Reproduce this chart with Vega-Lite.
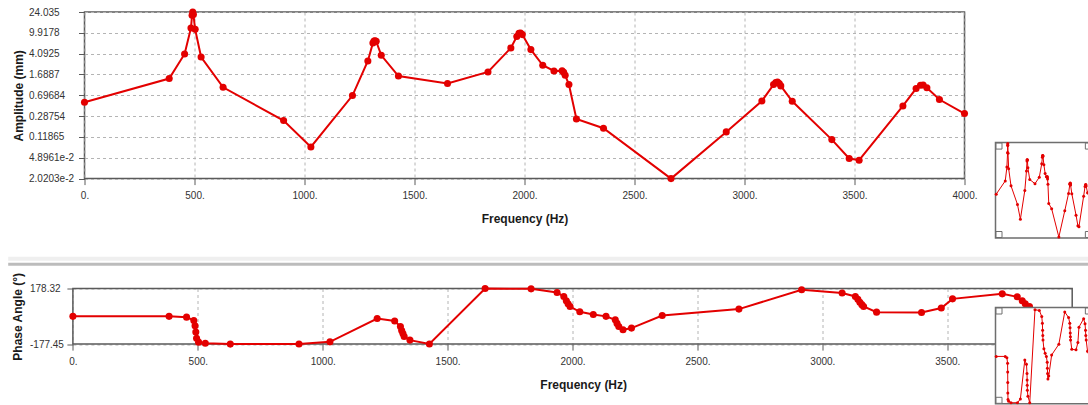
{
  "$schema": "https://vega.github.io/schema/vega-lite/v6.json",
  "background": "white",
  "padding": {"left": 5.5, "top": 6, "right": 0, "bottom": 0},
  "datasets": {
    "resp": [
      {"freq": 0, "amp": 0.52, "phase": 0},
      {"freq": 385, "amp": 1.42, "phase": 0},
      {"freq": 455, "amp": 4.04, "phase": -5},
      {"freq": 484, "amp": 12.2, "phase": -26},
      {"freq": 489, "amp": 21.0, "phase": -60},
      {"freq": 492, "amp": 24.035, "phase": -100},
      {"freq": 495, "amp": 21.5, "phase": -140},
      {"freq": 503, "amp": 11.5, "phase": -165},
      {"freq": 530, "amp": 3.55, "phase": -172},
      {"freq": 630, "amp": 0.98, "phase": -177.45},
      {"freq": 905, "amp": 0.238, "phase": -177},
      {"freq": 1029, "amp": 0.0776, "phase": -163},
      {"freq": 1218, "amp": 0.689, "phase": -14},
      {"freq": 1288, "amp": 3.0, "phase": -30},
      {"freq": 1311, "amp": 6.44, "phase": -65},
      {"freq": 1316, "amp": 7.0, "phase": -90},
      {"freq": 1321, "amp": 7.1, "phase": -110},
      {"freq": 1326, "amp": 6.9, "phase": -129},
      {"freq": 1349, "amp": 3.82, "phase": -152},
      {"freq": 1427, "amp": 1.58, "phase": -177},
      {"freq": 1650, "amp": 1.15, "phase": 178.32},
      {"freq": 1834, "amp": 1.88, "phase": 176},
      {"freq": 1938, "amp": 5.21, "phase": 153},
      {"freq": 1965, "amp": 8.5, "phase": 127},
      {"freq": 1975, "amp": 9.7, "phase": 100},
      {"freq": 1982, "amp": 9.8, "phase": 80},
      {"freq": 1990, "amp": 9.2, "phase": 63},
      {"freq": 2029, "amp": 4.86, "phase": 29},
      {"freq": 2083, "amp": 2.5, "phase": 12},
      {"freq": 2134, "amp": 1.96, "phase": 0},
      {"freq": 2171, "amp": 1.98, "phase": -22},
      {"freq": 2178, "amp": 1.85, "phase": -45},
      {"freq": 2185, "amp": 1.63, "phase": -65},
      {"freq": 2202, "amp": 1.1, "phase": -86},
      {"freq": 2236, "amp": 0.255, "phase": -75},
      {"freq": 2359, "amp": 0.172, "phase": 5.5},
      {"freq": 2666, "amp": 0.020203, "phase": 46.5},
      {"freq": 2917, "amp": 0.147, "phase": 170},
      {"freq": 3079, "amp": 0.548, "phase": 149},
      {"freq": 3132, "amp": 1.1, "phase": 127},
      {"freq": 3142, "amp": 1.2, "phase": 110},
      {"freq": 3150, "amp": 1.22, "phase": 90},
      {"freq": 3158, "amp": 1.15, "phase": 75},
      {"freq": 3165, "amp": 1.04, "phase": 63},
      {"freq": 3217, "amp": 0.54, "phase": 27},
      {"freq": 3397, "amp": 0.106, "phase": 25},
      {"freq": 3476, "amp": 0.0474, "phase": 53},
      {"freq": 3521, "amp": 0.0441, "phase": 112},
      {"freq": 3720, "amp": 0.443, "phase": 144},
      {"freq": 3780, "amp": 0.929, "phase": 125},
      {"freq": 3800, "amp": 1.07, "phase": 100},
      {"freq": 3812, "amp": 1.08, "phase": 80},
      {"freq": 3829, "amp": 0.96, "phase": 63},
      {"freq": 3886, "amp": 0.582, "phase": 20},
      {"freq": 4000, "amp": 0.321, "phase": -10}
    ]
  },
  "concat": [
    {
      "width": 880,
      "height": 166.6,
      "layer": [
        {
          "data": {"name": "resp"},
          "mark": {"type": "line", "color": "#e30000", "strokeWidth": 2, "point": {"filled": true, "size": 50, "color": "#e30000"}},
          "encoding": {
            "x": {
              "field": "freq", "type": "quantitative",
              "scale": {"domain": [0, 4000], "nice": false, "zero": false},
              "axis": {"title": "Frequency (Hz)", "values": [0, 500, 1000, 1500, 2000, 2500, 3000, 3500, 4000],
                       "labelExpr": "toString(datum.value) + '.'", "titleY": 40}
            },
            "y": {
              "field": "amp", "type": "quantitative",
              "scale": {"type": "log", "domain": [0.020203, 24.035], "nice": false},
              "axis": {"title": "Amplitude (mm)",
                       "values": [0.020203, 0.048961, 0.11865, 0.28754, 0.69684, 1.6887, 4.0925, 9.9178, 24.035],
                       "labelExpr": "datum.value < 0.03 ? '2.0203e-2' : datum.value < 0.06 ? '4.8961e-2' : toString(datum.value)",
                       "labelAlign": "left", "labelPadding": 50, "titleX": -59.3}
            }
          }
        },
        {
          "layer": [
            {
              "data": {"values": [{}]},
              "mark": {"type": "rect", "fill": "white", "stroke": "#6e6e6e", "strokeWidth": 1.5},
              "encoding": {
                "x": {"datum": -30, "type": "quantitative", "scale": {"domain": [-30, 4070], "range": [911, 1007.35], "nice": false, "zero": false}, "axis": null},
                "x2": {"datum": 4070},
                "y": {"datum": 0.01873, "type": "quantitative", "scale": {"type": "log", "domain": [0.01873, 25.93], "range": [226, 130.6], "nice": false}, "axis": null},
                "y2": {"datum": 25.93}
              }
            },
            {
              "data": {"name": "resp"},
              "mark": {"type": "line", "color": "#e30000", "strokeWidth": 1, "point": {"filled": true, "size": 9, "color": "#e30000"}},
              "encoding": {
                "x": {"field": "freq", "type": "quantitative", "axis": null},
                "y": {"field": "amp", "type": "quantitative", "axis": null}
              }
            },
            {
              "data": {"values": [{}]},
              "mark": {"type": "point", "shape": "square", "size": 36, "filled": true, "fill": "white", "stroke": "#6e6e6e", "strokeWidth": 1, "opacity": 1},
              "encoding": {"x": {"datum": 119, "type": "quantitative"}, "y": {"datum": 19.9, "type": "quantitative"}}
            },
            {
              "data": {"values": [{}]},
              "mark": {"type": "point", "shape": "square", "size": 36, "filled": true, "fill": "white", "stroke": "#6e6e6e", "strokeWidth": 1, "opacity": 1},
              "encoding": {"x": {"datum": 119, "type": "quantitative"}, "y": {"datum": 0.0244, "type": "quantitative"}}
            },
            {
              "data": {"values": [{}]},
              "mark": {"type": "point", "shape": "square", "size": 36, "filled": true, "fill": "white", "stroke": "#6e6e6e", "strokeWidth": 1, "opacity": 1},
              "encoding": {"x": {"datum": 3921, "type": "quantitative"}, "y": {"datum": 19.9, "type": "quantitative"}}
            },
            {
              "data": {"values": [{}]},
              "mark": {"type": "point", "shape": "square", "size": 36, "filled": true, "fill": "white", "stroke": "#6e6e6e", "strokeWidth": 1, "opacity": 1},
              "encoding": {"x": {"datum": 3921, "type": "quantitative"}, "y": {"datum": 0.0244, "type": "quantitative"}}
            }
          ]
        }
      ],
      "resolve": {"scale": {"x": "independent", "y": "independent"}}
    },
    {
      "width": 987.7,
      "height": 55.6,
      "view": {"stroke": null},
      "layer": [
        {
          "layer": [
            {
              "data": {"values": [{}]},
              "mark": {"type": "rule", "color": "#efefef", "strokeWidth": 4},
              "encoding": {
                "x": {"datum": -259, "type": "quantitative"},
                "x2": {"datum": 4100},
                "y": {"datum": 368.4, "type": "quantitative"}
              }
            },
            {
              "data": {"values": [{}]},
              "mark": {"type": "rule", "color": "#bcbcbc", "strokeWidth": 3},
              "encoding": {
                "x": {"datum": -259, "type": "quantitative"},
                "x2": {"datum": 4100},
                "y": {"datum": 333.2, "type": "quantitative"}
              }
            },
            {
              "data": {"values": [{}]},
              "mark": {"type": "rect", "filled": false, "color": "#5a5a5a", "strokeWidth": 1.5},
              "encoding": {
                "x": {"datum": 0, "type": "quantitative"},
                "x2": {"datum": 4000},
                "y": {"datum": -177.45, "type": "quantitative"},
                "y2": {"datum": 178.32}
              }
            },
            {
              "data": {"name": "resp"},
              "mark": {"type": "line", "color": "#e30000", "strokeWidth": 2, "point": {"filled": true, "size": 50, "color": "#e30000"}},
              "encoding": {
                "x": {
                  "field": "freq", "type": "quantitative",
                  "scale": {"domain": [0, 4000], "range": [-11.6, 987.7], "nice": false, "zero": false},
                  "axis": {"title": "Frequency (Hz)", "values": [0, 500, 1000, 1500, 2000, 2500, 3000, 3500],
                           "labelExpr": "toString(datum.value) + '.'", "titleY": 40, "titleX": 498.7}
                },
                "y": {
                  "field": "phase", "type": "quantitative",
                  "scale": {"domain": [-177.45, 178.32], "nice": false, "zero": false},
                  "axis": {"title": "Phase Angle (°)",
                           "values": [-177.45, -50, 178.32],
                           "labelExpr": "datum.value == -50 ? '-50.' : toString(datum.value)",
                           "labelAlign": "left", "labelPadding": 37.4, "titleX": -48.7, "offset": 11.6}
                }
              }
            }
          ]
        },
        {
          "layer": [
            {
              "data": {"values": [{}]},
              "mark": {"type": "rect", "fill": "white", "stroke": "#6e6e6e", "strokeWidth": 1.5},
              "encoding": {
                "x": {"datum": -30, "type": "quantitative", "scale": {"domain": [-30, 4070], "range": [911, 1007.35], "nice": false, "zero": false}, "axis": null},
                "x2": {"datum": 4070},
                "y": {"datum": -181.3, "type": "quantitative", "scale": {"domain": [-181.3, 187.1], "range": [115.3, 19], "nice": false, "zero": false}, "axis": null},
                "y2": {"datum": 187.1}
              }
            },
            {
              "data": {"name": "resp"},
              "mark": {"type": "line", "color": "#e30000", "strokeWidth": 1, "point": {"filled": true, "size": 9, "color": "#e30000"}},
              "encoding": {
                "x": {"field": "freq", "type": "quantitative", "axis": null},
                "y": {"field": "phase", "type": "quantitative", "axis": null}
              }
            },
            {
              "data": {"values": [{}]},
              "mark": {"type": "point", "shape": "square", "size": 36, "filled": true, "fill": "white", "stroke": "#6e6e6e", "strokeWidth": 1, "opacity": 1},
              "encoding": {"x": {"datum": 119, "type": "quantitative"}, "y": {"datum": 173.7, "type": "quantitative"}}
            },
            {
              "data": {"values": [{}]},
              "mark": {"type": "point", "shape": "square", "size": 36, "filled": true, "fill": "white", "stroke": "#6e6e6e", "strokeWidth": 1, "opacity": 1},
              "encoding": {"x": {"datum": 119, "type": "quantitative"}, "y": {"datum": -167.9, "type": "quantitative"}}
            },
            {
              "data": {"values": [{}]},
              "mark": {"type": "point", "shape": "square", "size": 36, "filled": true, "fill": "white", "stroke": "#6e6e6e", "strokeWidth": 1, "opacity": 1},
              "encoding": {"x": {"datum": 3921, "type": "quantitative"}, "y": {"datum": 173.7, "type": "quantitative"}}
            }
          ]
        }
      ],
      "resolve": {"scale": {"x": "independent", "y": "independent"}}
    }
  ],
  "columns": 1,
  "spacing": 15.5,
  "config": {
    "font": "Liberation Sans",
    "view": {"stroke": "#5a5a5a", "strokeWidth": 1.5},
    "axis": {
      "labelFont": "Liberation Sans", "labelFontSize": 10, "labelColor": "#333333",
      "labelOverlap": false, "labelFlush": false, "labelBound": false,
      "titleFont": "Liberation Sans", "titleFontSize": 12, "titleFontWeight": "bold", "titleColor": "#1a1a1a",
      "domain": false, "ticks": true, "tickColor": "#5a5a5a", "tickSize": 6,
      "grid": true, "gridColor": "#b4b4b4", "gridDash": [3, 3], "gridWidth": 1
    },
    "axisX": {"labelBaseline": "middle", "labelPadding": 11, "titleBaseline": "middle"},
    "axisY": {"labelBaseline": "middle"}
  }
}
